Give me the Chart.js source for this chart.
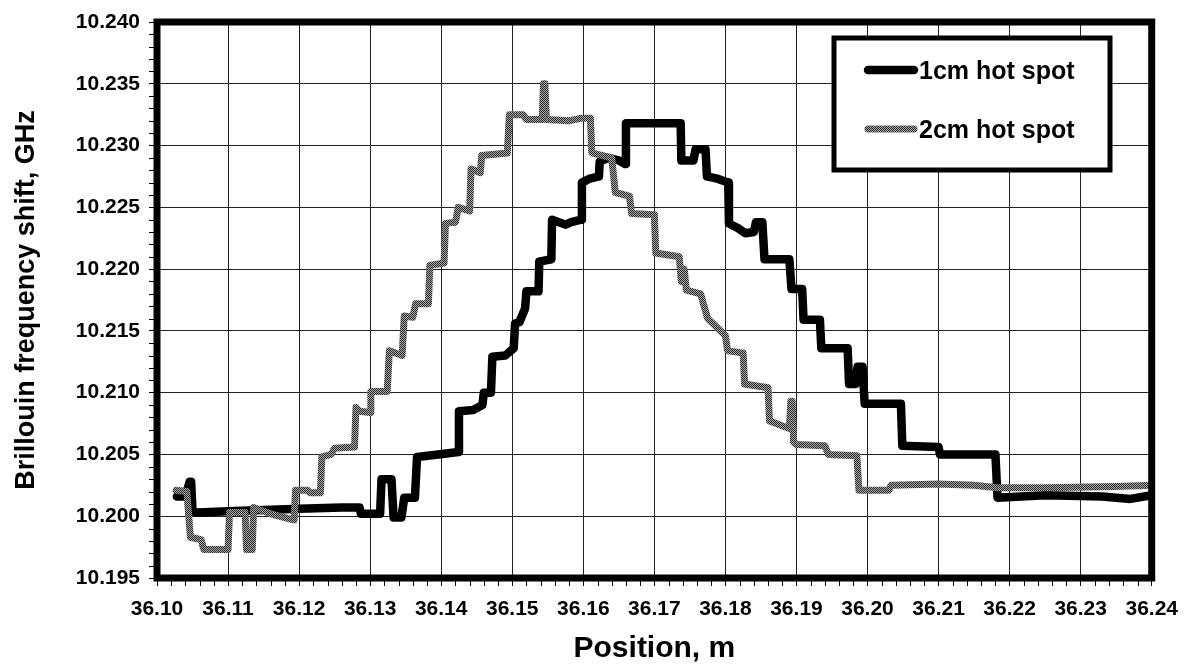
<!DOCTYPE html>
<html>
<head>
<meta charset="utf-8">
<script src="https://cdn.jsdelivr.net/npm/chart.js"></script>
<style>
  html, body { margin: 0; padding: 0; background: #fff; }
  #wrap { width: 1189px; height: 665px; }
</style>
</head>
<body>
<div id="wrap"><canvas id="chart" width="1189" height="665"></canvas></div>
<script>
// tick labels
const xTicks = [36.10, 36.11, 36.12, 36.13, 36.14, 36.15, 36.16, 36.17, 36.18, 36.19, 36.20, 36.21, 36.22, 36.23, 36.24];
const yTicks = [10.195, 10.200, 10.205, 10.210, 10.215, 10.220, 10.225, 10.230, 10.235, 10.240];

const seriesNames = ['1cm hot spot', '2cm hot spot'];

// 1cm hot spot
const oneCmX = [36.1028, 36.1040, 36.1046, 36.1048, 36.1050, 36.1057, 36.1100, 36.1200, 36.1260, 36.1285,
  36.1287, 36.1314, 36.1316, 36.1330, 36.1333, 36.1344, 36.1348, 36.1363, 36.1366, 36.1396,
  36.1424, 36.1425, 36.1445, 36.1458, 36.1460, 36.1470, 36.1472, 36.1490, 36.1502, 36.1504,
  36.1510, 36.1518, 36.1520, 36.1537, 36.1538, 36.1555, 36.1556, 36.1575, 36.1583, 36.1597,
  36.1598, 36.1608, 36.1622, 36.1623, 36.1635, 36.1650, 36.1659, 36.1660, 36.1737, 36.1738,
  36.1755, 36.1758, 36.1772, 36.1774, 36.1790, 36.1804, 36.1805, 36.1818, 36.1828, 36.1840,
  36.1843, 36.1852, 36.1855, 36.1890, 36.1893, 36.1908, 36.1910, 36.1933, 36.1935, 36.1972,
  36.1974, 36.1983, 36.1986, 36.1993, 36.1996, 36.2047, 36.2049, 36.2100, 36.2102, 36.2180,
  36.2183, 36.2250, 36.2330, 36.2370, 36.2400];
const oneCmY = [10.2016, 10.2016, 10.2028, 10.2028, 10.2004, 10.2003, 10.2004, 10.2006, 10.2007, 10.2007,
  10.2002, 10.2002, 10.2030, 10.2030, 10.1999, 10.1999, 10.2015, 10.2015, 10.2048, 10.2050,
  10.2052, 10.2085, 10.2086, 10.2090, 10.2100, 10.2100, 10.2129, 10.2130, 10.2136, 10.2156,
  10.2157, 10.2168, 10.2182, 10.2182, 10.2206, 10.2208, 10.2240, 10.2236, 10.2238, 10.2240,
  10.2270, 10.2273, 10.2275, 10.2287, 10.2290, 10.2288, 10.2285, 10.2318, 10.2318, 10.2288,
  10.2288, 10.2297, 10.2297, 10.2275, 10.2273, 10.2270, 10.2237, 10.2233, 10.2229, 10.2230,
  10.2238, 10.2238, 10.2208, 10.2208, 10.2184, 10.2184, 10.2159, 10.2159, 10.2136, 10.2136,
  10.2107, 10.2107, 10.2121, 10.2121, 10.2091, 10.2091, 10.2057, 10.2056, 10.2050, 10.2050,
  10.2015, 10.2017, 10.2016, 10.2014, 10.2017];

// 2cm hot spot
const twoCmX = [36.1027, 36.1042, 36.1047, 36.1062, 36.1066, 36.1100, 36.1102, 36.1124, 36.1126, 36.1134,
  36.1136, 36.1145, 36.1165, 36.1185, 36.1193, 36.1195, 36.1212, 36.1215, 36.1230, 36.1232,
  36.1245, 36.1250, 36.1278, 36.1280, 36.1285, 36.1300, 36.1301, 36.1324, 36.1327, 36.1345,
  36.1348, 36.1360, 36.1364, 36.1382, 36.1384, 36.1404, 36.1406, 36.1420, 36.1424, 36.1440,
  36.1442, 36.1455, 36.1457, 36.1493, 36.1496, 36.1515, 36.1520, 36.1542, 36.1544, 36.1546,
  36.1548, 36.1580, 36.1596, 36.1610, 36.1612, 36.1640, 36.1645, 36.1665, 36.1668, 36.1700,
  36.1702, 36.1735, 36.1738, 36.1742, 36.1745, 36.1765, 36.1775, 36.1800, 36.1803, 36.1825,
  36.1827, 36.1860, 36.1862, 36.1890, 36.1892, 36.1894, 36.1896, 36.1900, 36.1940, 36.1945,
  36.1985, 36.1988, 36.2030, 36.2033, 36.2100, 36.2150, 36.2183, 36.2250, 36.2350, 36.2400];
const twoCmY = [10.2021, 10.2020, 10.1983, 10.1981, 10.1973, 10.1973, 10.2003, 10.2003, 10.1973, 10.1973,
  10.2007, 10.2005, 10.2001, 10.1998, 10.1997, 10.2021, 10.2021, 10.2019, 10.2019, 10.2048,
  10.2050, 10.2055, 10.2056, 10.2088, 10.2085, 10.2084, 10.2101, 10.2101, 10.2134, 10.2130,
  10.2162, 10.2161, 10.2172, 10.2172, 10.2203, 10.2205, 10.2237, 10.2238, 10.2250, 10.2247,
  10.2281, 10.2278, 10.2292, 10.2294, 10.2325, 10.2325, 10.2321, 10.2321, 10.2350, 10.2350,
  10.2321, 10.2320, 10.2322, 10.2322, 10.2294, 10.2290, 10.2262, 10.2259, 10.2245, 10.2244,
  10.2213, 10.2210, 10.2190, 10.2200, 10.2183, 10.2180, 10.2160, 10.2146, 10.2134, 10.2132,
  10.2107, 10.2104, 10.2077, 10.2071, 10.2093, 10.2093, 10.2060, 10.2058, 10.2057, 10.2050,
  10.2049, 10.2021, 10.2021, 10.2025, 10.2026, 10.2025, 10.2023, 10.2023, 10.2024, 10.2025];

const FONT = "'Liberation Sans', Arial, sans-serif";

// dithered gray like the scanned original
function makeGrayPattern(ctx) {
    const c = document.createElement('canvas');
    c.width = 2;
    c.height = 2;
    const p = c.getContext('2d');
    p.fillStyle = '#a8a8a8';
    p.fillRect(0, 0, 2, 2);
    p.fillStyle = '#2a2a2a';
    p.fillRect(0, 0, 1, 1);
    p.fillRect(1, 1, 1, 1);
    return ctx.createPattern(c, 'repeat');
}

function toPoints(xs, ys) {
    return xs.map((x, i) => ({ x: x, y: ys[i] }));
}

// frame, minor ticks and boxed legend
const framePlugin = {
    id: 'frame',
    afterDatasetsDraw(chart) {
        const { ctx, chartArea: a, scales } = chart;
        ctx.save();
        // minor ticks
        ctx.strokeStyle = '#000';
        ctx.lineWidth = 1;
        ctx.beginPath();
        for (let i = 0; i <= 45; i++) {
            if (i % 5 === 0) continue;
            const py = Math.round(scales.y.getPixelForValue(10.195 + i * 0.001)) + 0.5;
            ctx.moveTo(a.left - 8, py);
            ctx.lineTo(a.left, py);
        }
        for (let i = 0; i <= 70; i++) {
            if (i % 5 === 0) continue;
            const px = Math.round(scales.x.getPixelForValue(36.10 + i * 0.002)) + 0.5;
            ctx.moveTo(px, a.bottom);
            ctx.lineTo(px, a.bottom + 8);
        }
        ctx.stroke();

        // thick plot border
        ctx.lineWidth = 7;
        ctx.strokeStyle = '#000';
        ctx.strokeRect(a.left, a.top, a.right - a.left, a.bottom - a.top);

        // legend box
        const bx = 834, by = 38, bw = 276, bh = 132;
        ctx.fillStyle = '#fff';
        ctx.fillRect(bx, by, bw, bh);
        ctx.lineWidth = 5;
        ctx.strokeRect(bx, by, bw, bh);
        ctx.font = 'bold 25px ' + FONT;
        ctx.textBaseline = 'middle';
        ctx.fillStyle = '#000';
        chart.data.datasets.forEach((ds, i) => {
            const ly = i === 0 ? 70 : 129;
            ctx.beginPath();
            ctx.lineCap = 'round';
            ctx.lineWidth = ds.borderWidth;
            ctx.strokeStyle = ds.borderColor;
            ctx.moveTo(868, ly);
            ctx.lineTo(914, ly);
            ctx.stroke();
            ctx.fillText(ds.label, 919, ly + 2);
        });
        ctx.restore();
    }
};

const ctx = document.getElementById('chart').getContext('2d');
const grayPattern = makeGrayPattern(ctx);

new Chart(ctx, {
    type: 'line',
    data: {
        datasets: [
            {
                label: seriesNames[0],
                data: toPoints(oneCmX, oneCmY),
                borderColor: '#000',
                borderWidth: 8.5,
                order: 1,
            },
            {
                label: seriesNames[1],
                data: toPoints(twoCmX, twoCmY),
                borderColor: grayPattern,
                borderWidth: 7,
                order: 0,
            },
        ],
    },
    options: {
        responsive: false,
        animation: false,
        devicePixelRatio: 1,
        layout: { padding: { top: 22, right: 29, left: 0, bottom: 0 } },
        elements: {
            point: { radius: 0, hoverRadius: 0 },
            line: { tension: 0, borderJoinStyle: 'round', borderCapStyle: 'round', fill: false },
        },
        plugins: {
            legend: { display: false },
            tooltip: { enabled: false },
        },
        scales: {
            x: {
                type: 'linear',
                min: 36.10,
                max: 36.24,
                afterBuildTicks: (scale) => { scale.ticks = xTicks.map(v => ({ value: v })); },
                afterFit: (scale) => { scale.height = 87; },
                ticks: {
                    autoSkip: false,
                    maxRotation: 0,
                    padding: 11,
                    color: '#000',
                    font: { family: FONT, size: 21, weight: 'bold' },
                    callback: (v) => v.toFixed(2),
                },
                grid: { color: '#222', lineWidth: 1, tickLength: 8, tickColor: '#000' },
                border: { display: false },
                title: {
                    display: true,
                    text: 'Position, m',
                    color: '#000',
                    font: { family: FONT, size: 30, weight: 'bold' },
                    padding: { top: 0, bottom: -2 },
                },
            },
            y: {
                type: 'linear',
                min: 10.195,
                max: 10.240,
                afterBuildTicks: (scale) => { scale.ticks = yTicks.map(v => ({ value: v })); },
                afterFit: (scale) => { scale.width = 157; },
                ticks: {
                    autoSkip: false,
                    padding: 9,
                    color: '#000',
                    font: { family: FONT, size: 21, weight: 'bold' },
                    callback: (v) => v.toFixed(3),
                },
                grid: { color: '#222', lineWidth: 1, tickLength: 8, tickColor: '#000' },
                border: { display: false },
                title: {
                    display: true,
                    text: 'Brillouin frequency shift, GHz',
                    color: '#000',
                    font: { family: FONT, size: 27, weight: 'bold' },
                    padding: { top: 10, bottom: 0 },
                },
            },
        },
    },
    plugins: [framePlugin],
});
</script>
</body>
</html>
